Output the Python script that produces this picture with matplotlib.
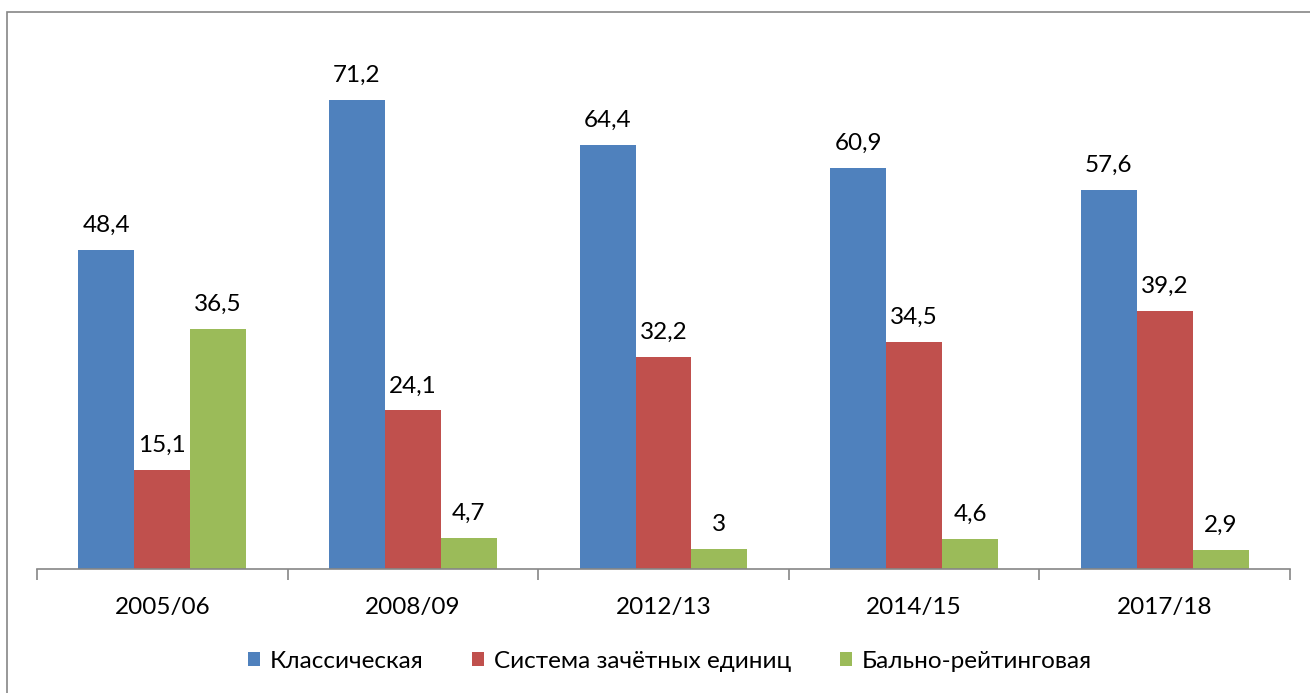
import numpy as np
import matplotlib.pyplot as plt
from matplotlib.patches import Rectangle

years = ['2005/06', '2008/09', '2012/13', '2014/15', '2017/18']
classic = [48.4, 71.2, 64.4, 60.9, 57.6]
credits = [15.1, 24.1, 32.2, 34.5, 39.2]
rating = [36.5, 4.7, 3.0, 4.6, 2.9]

series = [
    ('Классическая', classic, '#4F81BD'),
    ('Система зачётных единиц', credits, '#C0504D'),
    ('Бально-рейтинговая', rating, '#9BBB59'),
]

plt.rcParams['font.family'] = ['Lato', 'DejaVu Sans']
fs = 17.5

fig = plt.figure(figsize=(13.1, 6.93), dpi=100)
ax = fig.add_axes([37 / 1310, 124 / 693, 1253 / 1310, 527 / 693])

# chart frame (right and bottom edges fall outside the image)
fig.patches.append(Rectangle((7 / 1310, -0.1), 1.2, 681 / 693 + 0.1,
                             transform=fig.transFigure, fill=False,
                             edgecolor='#868686', linewidth=1.2))

x = np.arange(len(years))
w = 0.223
for i, (name, vals, col) in enumerate(series):
    bars = ax.bar(x + (i - 1) * w, vals, w, color=col, label=name)
    labels = [f'{v:g}'.replace('.', ',') for v in vals]
    ax.bar_label(bars, labels=labels, padding=10, fontsize=fs)

ax.set_xlim(-0.5, len(years) - 0.5)
ax.set_ylim(0, 80)
ax.set_yticks([])
for s in ['top', 'right', 'left']:
    ax.spines[s].set_visible(False)
ax.spines['bottom'].set_color('#868686')
ax.spines['bottom'].set_linewidth(1.2)

ax.set_xticks(x)
ax.set_xticklabels(years, fontsize=fs)
ax.set_xticks(np.arange(len(years) + 1) - 0.5, minor=True)
ax.tick_params(axis='x', which='major', length=0, pad=20)
ax.tick_params(axis='x', which='minor', length=8, color='#868686', width=1.2)

ax.legend(loc='center', bbox_to_anchor=(0.505, -0.175), ncol=3, frameon=False,
          fontsize=fs, handlelength=0.5, handleheight=0.5, columnspacing=2.0,
          handletextpad=0.4)

fig.savefig('out.png', dpi=100)
